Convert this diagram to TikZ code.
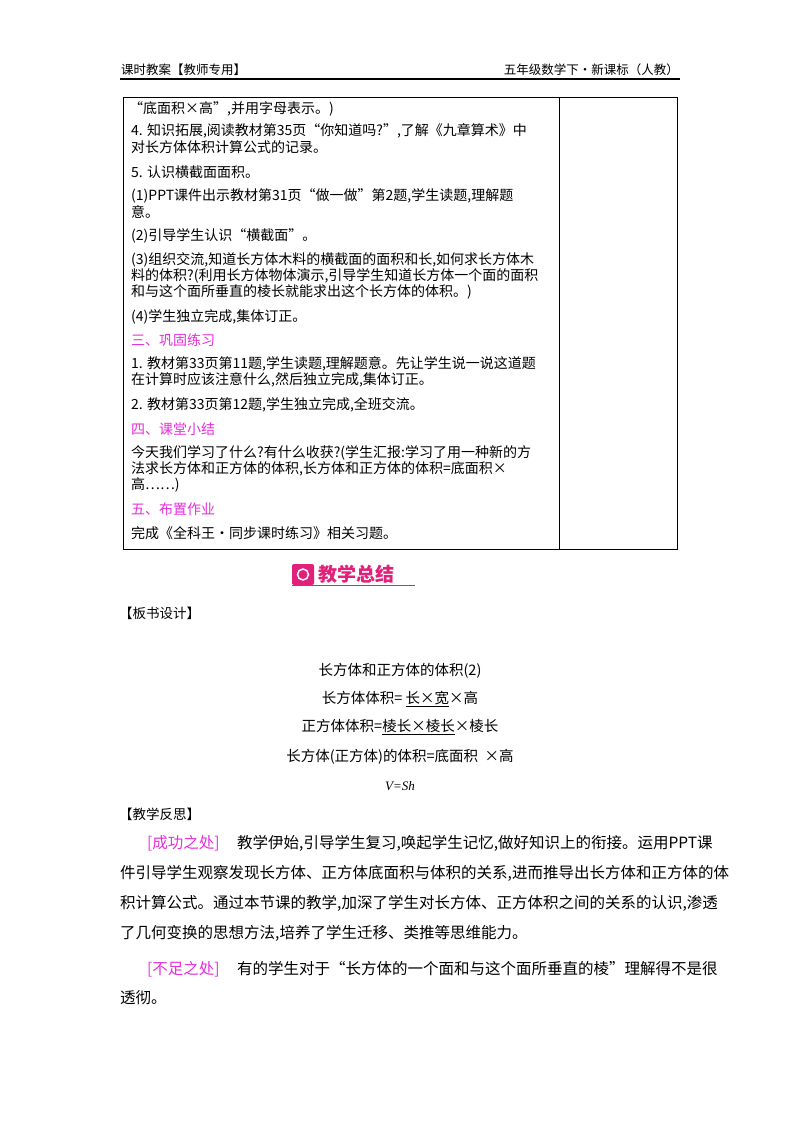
\documentclass[tikz,border=0pt]{standalone}
\usepackage{fontspec}
\setmainfont{Noto Sans CJK SC}
\newfontfamily\latinit{Liberation Serif}
\definecolor{pk}{HTML}{E62EDC}
\definecolor{badge}{HTML}{E0207A}
\begin{document}
\begin{tikzpicture}[x=1pt,y=-1pt,
  tb/.style={anchor=west,inner sep=0pt,font=\fontsize{14}{15}\selectfont},
  hd/.style={tb,text=pk},
  rf/.style={anchor=west,inner sep=0pt,font=\fontsize{15.5}{16}\selectfont},
  bd/.style={anchor=center,inner sep=0pt,font=\fontsize{14.5}{16}\selectfont}]
\useasboundingbox (0,0) rectangle (800,1132);
% header
\node[anchor=west,inner sep=0pt,font=\fontsize{12.5}{14}\selectfont] (h1) at (121,70) {课时教案【教师专用】};
\node[anchor=east,inner sep=0pt,font=\fontsize{12.5}{14}\selectfont] (h2) at (679,70) {五年级数学下·新课标（人教）};
\draw[line width=1.2pt] (120,79) -- (680,79);
% table
\draw[line width=1pt] (123,97) rectangle (677,549);
\draw[line width=1pt] (559,97) -- (559,549);
\node[tb] (t1) at (129,109) {“底面积×高”,并用字母表示。)};
\node[tb] (t2) at (131,131) {4. 知识拓展,阅读教材第35页“你知道吗?”,了解《九章算术》中};
\node[tb] (t3) at (131,147) {对长方体体积计算公式的记录。};
\node[tb] (t4) at (131,172) {5. 认识横截面面积。};
\node[tb] (t5) at (131,196) {(1)PPT课件出示教材第31页“做一做”第2题,学生读题,理解题};
\node[tb] (t6) at (131,212) {意。};
\node[tb] (t7) at (131,236) {(2)引导学生认识“横截面”。};
\node[tb] (t8) at (131,260) {(3)组织交流,知道长方体木料的横截面的面积和长,如何求长方体木};
\node[tb] (t9) at (131,276) {料的体积?(利用长方体物体演示,引导学生知道长方体一个面的面积};
\node[tb] (t10) at (131,292) {和与这个面所垂直的棱长就能求出这个长方体的体积。)};
\node[tb] (t11) at (131,317) {(4)学生独立完成,集体订正。};
\node[hd] (s3) at (131,340) {三、巩固练习};
\node[tb] (t12) at (131,364) {1. 教材第33页第11题,学生读题,理解题意。先让学生说一说这道题};
\node[tb] (t13) at (131,380) {在计算时应该注意什么,然后独立完成,集体订正。};
\node[tb] (t14) at (131,405) {2. 教材第33页第12题,学生独立完成,全班交流。};
\node[hd] (s4) at (131,429) {四、课堂小结};
\node[tb] (t15) at (131,453) {今天我们学习了什么?有什么收获?(学生汇报:学习了用一种新的方};
\node[tb] (t16) at (131,469) {法求长方体和正方体的体积,长方体和正方体的体积=底面积×};
\node[tb] (t17) at (131,485) {高……)};
\node[hd] (s5) at (131,509) {五、布置作业};
\node[tb] (t18) at (131,533) {完成《全科王·同步课时练习》相关习题。};
% badge
\fill[badge,rounded corners=2pt] (292,564) rectangle (314,585);
\node[circle,draw=white,line width=1.5pt,minimum size=11pt,inner sep=0pt] (ic) at (303,574.5) {};
\node[anchor=west,inner sep=0pt,text=badge,font=\fontsize{19}{20}\bfseries\selectfont] (bt) at (318,574) {教学总结};
\draw[badge,line width=0.8pt] (292,585) -- (415,585);
% board design
\node[anchor=west,inner sep=0pt,font=\fontsize{13.5}{15}\selectfont] (bs) at (119,613) {【板书设计】};
\node[bd] (b1) at (400,671) {长方体和正方体的体积(2)};
\node[bd] (b2) at (400,699) {长方体体积= \underline{长×宽}×高};
\node[bd] (b3) at (400,727) {正方体体积=\underline{棱长×棱长}×棱长};
\node[bd] (b4) at (400,757) {长方体(正方体)的体积=底面积\ \ ×高};
\node[bd,font=\fontsize{13}{14}\latinit\itshape] (b5) at (400,786) {V=Sh};
% reflection
\node[anchor=west,inner sep=0pt,font=\fontsize{13.5}{15}\selectfont] (fs) at (119,814) {【教学反思】};
\node[rf,text=pk] (r0) at (147,843) {[成功之处]};
\node[rf] (r1) at (237,843) {教学伊始,引导学生复习,唤起学生记忆,做好知识上的衔接。运用PPT课};
\node[rf] (r2) at (120,873) {件引导学生观察发现长方体、正方体底面积与体积的关系,进而推导出长方体和正方体的体};
\node[rf] (r3) at (120,903) {积计算公式。通过本节课的教学,加深了学生对长方体、正方体积之间的关系的认识,渗透};
\node[rf] (r4) at (120,933) {了几何变换的思想方法,培养了学生迁移、类推等思维能力。};
\node[rf,text=pk] (r5) at (147,969) {[不足之处]};
\node[rf] (r6) at (237,969) {有的学生对于“长方体的一个面和与这个面所垂直的棱”理解得不是很};
\node[rf] (r7) at (120,998) {透彻。};
\end{tikzpicture}
\end{document}
